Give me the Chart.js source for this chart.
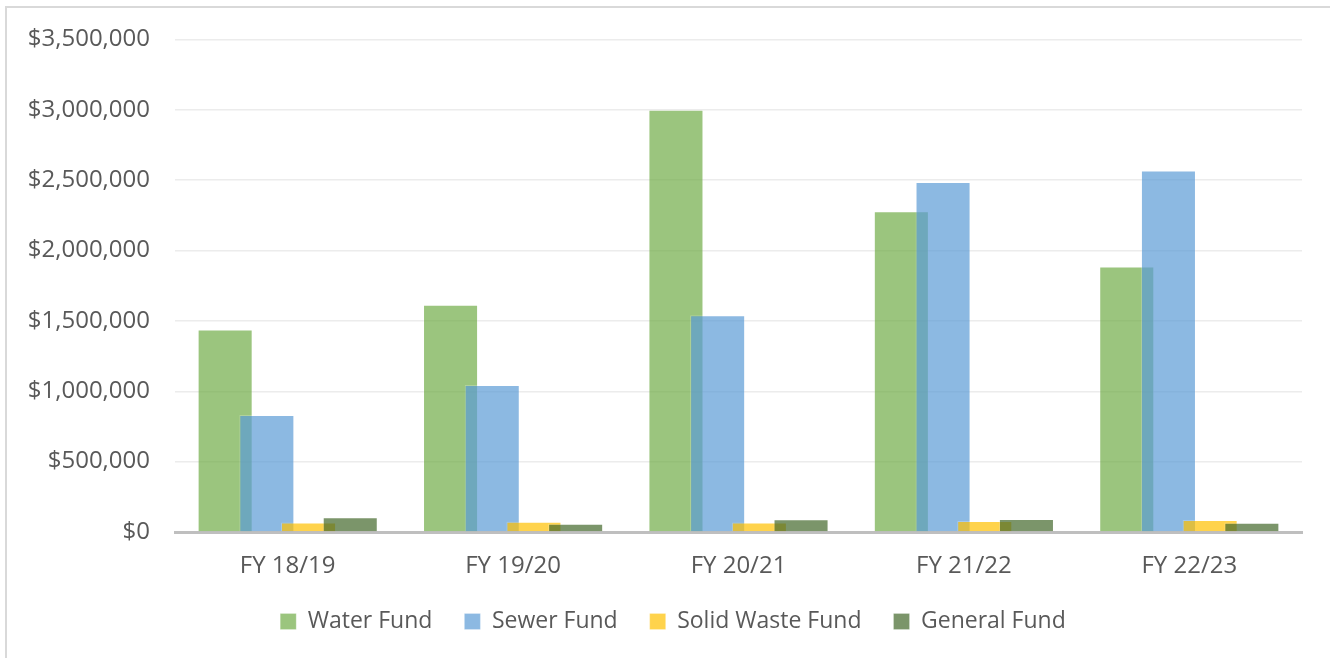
<!DOCTYPE html>
<html>
<head>
<meta charset="utf-8">
<script src="https://cdn.jsdelivr.net/npm/chart.js@4"></script>
<style>
  html, body { margin: 0; padding: 0; background: #fff; }
  #frame { position: absolute; left: 5px; top: 6px; width: 1340px; height: 670px;
           border-top: 2px solid #d9d9d9; border-left: 2px solid #d9d9d9; }
  #wrap { position: absolute; left: 0; top: 0; width: 1330px; height: 658px; }
</style>
</head>
<body>
<div id="frame"></div>
<div id="wrap"><canvas id="chart" width="1330" height="658"></canvas></div>
<script>
const categories = ['FY 18/19', 'FY 19/20', 'FY 20/21', 'FY 21/22', 'FY 22/23'];
const waterFund = [1438000, 1615000, 3000000, 2279000, 1886000];
const sewerFund = [831000, 1045000, 1540000, 2486000, 2569000];
const solidWasteFund = [68000, 73000, 68000, 78000, 85000];
const generalFund = [104000, 59000, 90000, 92000, 66000];
const yTicks = [0, 500000, 1000000, 1500000, 2000000, 2500000, 3000000, 3500000];

const textColor = '#595959';
const fontFamily = '"Open Sans", "Noto Sans", sans-serif';

// Excel draws later series on top, Chart.js does the opposite
const drawInOrder = {
  id: 'drawInOrder',
  afterLayout(chart) {
    // legend is centred on the whole picture, not on the plot
    if (chart.legend) { chart.legend.left += 22; chart.legend.right += 22; }
  },
  beforeDatasetsDraw(chart) {
    const area = chart.chartArea;
    const ctx = chart.ctx;
    ctx.save();
    ctx.beginPath();
    ctx.rect(area.left, area.top - 2, area.right - area.left, area.bottom - area.top + 2);
    ctx.clip();
    chart.getSortedVisibleDatasetMetas().forEach(m => m.controller.draw());
    ctx.restore();
    return false;
  }
};

function bars(label, data, color) {
  return {
    label: label,
    data: data,
    backgroundColor: color,
    borderColor: 'rgba(255,255,255,0.22)',
    borderWidth: 1,
    borderSkipped: 'bottom'
  };
}

new Chart(document.getElementById('chart'), {
  type: 'bar',
  data: {
    labels: categories,
    datasets: [
      bars('Water Fund', waterFund, 'rgba(112,173,71,0.7)'),
      bars('Sewer Fund', sewerFund, 'rgba(91,155,213,0.7)'),
      bars('Solid Waste Fund', solidWasteFund, 'rgba(255,192,0,0.7)'),
      bars('General Fund', generalFund, 'rgba(67,104,43,0.7)')
    ]
  },
  options: {
    responsive: false,
    animation: false,
    categoryPercentage: 0.74,
    barPercentage: 1.32,
    layout: { padding: { left: 0, right: 28, top: 37, bottom: 15 } },
    plugins: {
      tooltip: { enabled: false },
      legend: {
        position: 'bottom',
        labels: {
          boxWidth: 16,
          boxHeight: 16,
          padding: 32,
          color: textColor,
          font: { family: fontFamily, size: 23 }
        }
      }
    },
    scales: {
      x: {
        grid: { display: false },
        border: { display: true, color: '#bfbfbf', width: 3 },
        ticks: { color: textColor, padding: 12, font: { family: fontFamily, size: 24 } },
        afterFit(scale) { scale.height = 46; }
      },
      y: {
        min: 0,
        max: 3500000,
        afterBuildTicks(scale) { scale.ticks = yTicks.map(v => ({ value: v })); },
        grid: { color: '#ececec', lineWidth: 1.5, drawTicks: false },
        border: { display: false },
        ticks: {
          color: textColor,
          padding: 25,
          font: { family: fontFamily, size: 24 },
          callback: v => '$' + Number(v).toLocaleString('en-US')
        },
        afterFit(scale) { scale.width = 175; }
      }
    }
  },
  plugins: [drawInOrder]
});
</script>
</body>
</html>
